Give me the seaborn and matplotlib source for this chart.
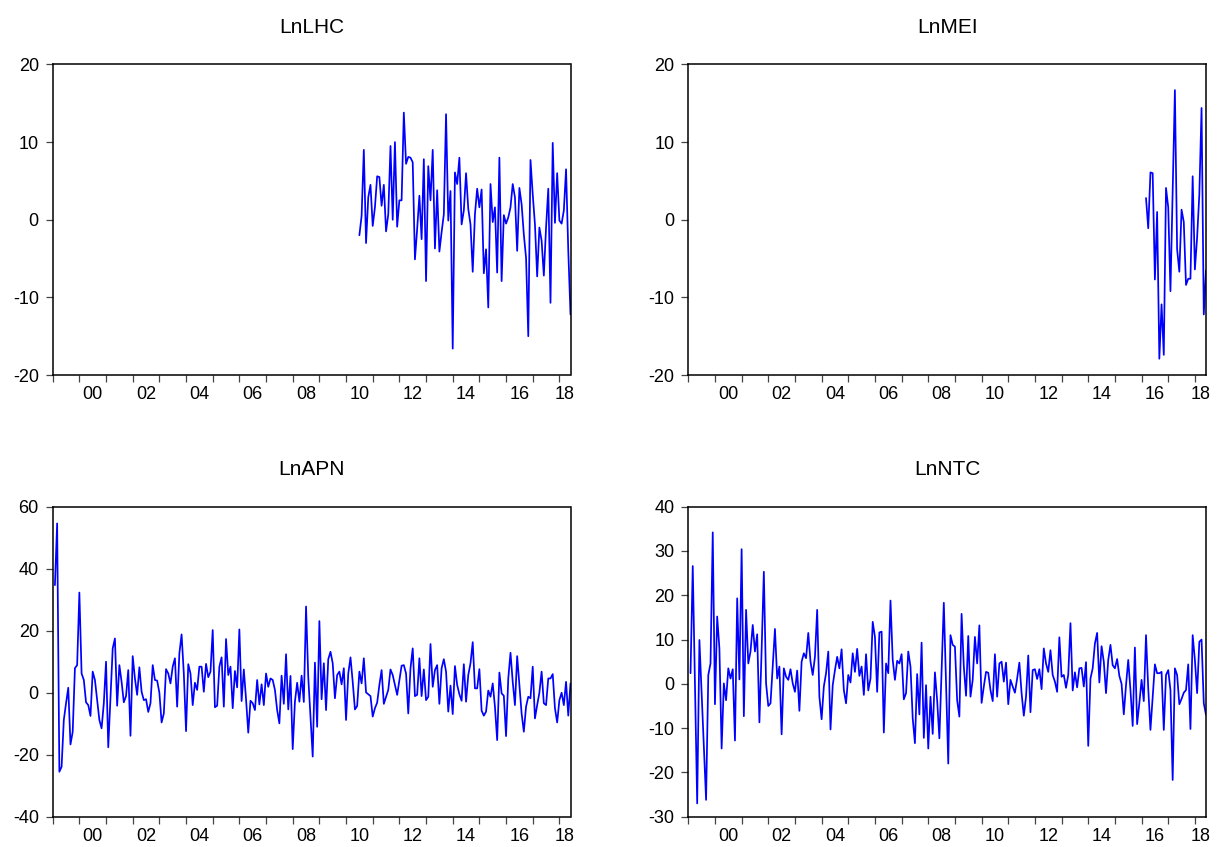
import numpy as np
import pandas as pd
import matplotlib
matplotlib.use("Agg")
import matplotlib.pyplot as plt
import seaborn as sns

# ---------------- data ----------------
axis_start = "1999-01"
axis_end = "2018-06"

lhc_start = "2010-07"
lhc = [-2.0, 0.5, 9.0, -3.0, 2.9, 4.5, -0.8, 1.6, 5.6, 5.5,
       1.8, 4.5, -1.5, 0.7, 9.5, 0.0, 10.0, -0.9, 2.5, 2.5,
       13.8, 7.2, 8.1, 8.0, 7.4, -5.1, -1.2, 3.1, -2.5, 7.8,
       -7.9, 6.9, 2.5, 9.0, -3.7, 3.8, -4.1, -1.6, 0.7, 13.6,
       -0.1, 3.7, -16.6, 6.1, 4.6, 8.0, -0.6, 1.2, 6.0, 1.4,
       -0.6, -6.7, 0.7, 4.0, 1.6, 3.9, -6.9, -3.8, -11.3, 4.6,
       -0.3, 1.6, -6.8, 8.0, -7.9, 0.6, -0.5, 0.3, 1.6, 4.6,
       2.9, -4.0, 4.1, 2.0, -1.9, -4.9, -15.0, 7.7, 3.3, -0.6,
       -7.3, -1.0, -2.7, -7.2, -1.0, 4.0, -10.7, 9.9, -0.4, 6.0,
       -0.1, -0.5, 1.2, 6.5, -4.0, -12.2]

mei_start = "2016-03"
mei = [2.8, -1.1, 6.1, 6.0, -7.7, 1.0, -17.9, -10.9, -17.4, 4.1,
       1.6, -9.2, 3.7, 16.7, -3.8, -6.7, 1.3, -0.3, -8.4, -7.6,
       -7.6, 5.6, -6.4, -2.3, 3.3, 14.4, -12.2, -6.5]

apn_start = "1999-02"
apn = [34.7, 54.6, -25.5, -23.9, -8.8, -3.4, 1.6, -16.7, -12.6, 7.9,
       8.9, 32.3, 6.2, 4.1, -3.1, -4.0, -7.5, 6.8, 4.1, -2.4,
       -8.8, -11.5, -3.4, 10.0, -17.6, -1.3, 14.3, 17.5, -4.2, 8.9,
       3.5, -3.1, -1.1, 7.3, -13.9, 11.8, 4.6, -0.7, 8.2, 0.3,
       -2.4, -2.1, -6.2, -3.4, 8.9, 4.1, 3.9, 0.0, -9.6, -6.7,
       7.6, 6.2, 3.0, 8.4, 11.1, -4.5, 12.7, 18.8, 6.2, -12.4,
       9.2, 6.2, -4.0, 3.2, 0.9, 8.4, 8.4, 0.3, 9.3, 5.0,
       6.8, 20.2, -4.7, -4.2, 8.4, 11.4, -4.5, 17.3, 5.7, 8.4,
       -5.0, 7.0, 1.7, 20.4, -2.7, 7.5, -2.1, -12.9, -2.6, -3.4,
       -5.6, 4.1, -3.8, 2.7, -4.0, 6.2, 1.9, 4.6, 4.1, 0.9,
       -5.6, -9.9, 5.5, -3.6, 12.4, -5.4, 5.4, -18.2, -2.9, 3.2,
       -2.9, 5.5, -3.0, 27.8, 5.0, -8.0, -20.6, 9.7, -11.0, 23.1,
       -2.1, 9.5, -5.6, 10.8, 13.2, 9.5, -1.8, 5.7, 6.8, 2.7,
       7.9, -8.8, 6.2, 11.4, 3.5, -5.4, -4.3, 6.8, 3.0, 11.1,
       0.1, -0.5, -1.1, -7.7, -5.0, -3.2, 2.5, 7.3, -3.6, -1.3,
       0.9, 7.5, 5.7, 2.5, -0.7, 4.1, 8.7, 8.9, 6.2, -6.7,
       7.9, 14.3, -1.1, -0.7, 11.1, -1.1, 7.5, -2.4, -1.3, 15.7,
       1.9, 7.3, 8.9, -3.6, 7.9, 10.8, 6.8, -6.1, 2.3, -6.9,
       8.6, 2.5, -0.5, -2.6, 9.2, -2.9, 5.7, 9.5, 16.3, 1.4,
       1.4, 7.6, -5.8, -7.4, -6.1, 0.7, -1.3, 3.0, -4.5, -15.3,
       6.5, -0.2, -1.0, -14.0, 4.6, 12.9, 3.5, -4.0, 11.8, 2.5,
       -6.7, -12.6, -4.5, -1.3, -1.8, 8.4, -8.3, -4.0, 0.0, 6.8,
       -3.4, -4.0, 4.6, 4.6, 6.0, -5.0, -9.6, -2.4, 0.0, -4.0,
       3.5, -7.4, 3.0]

ntc_start = "1999-02"
ntc = [2.4, 26.6, 0.0, -27.0, 9.9, -2.1, -14.1, -26.2, 2.0, 4.6,
       34.2, -4.6, 15.2, 8.0, -14.6, 0.1, -3.7, 3.5, 1.2, 3.3,
       -12.8, 19.3, 1.0, 30.4, -7.3, 16.7, 4.6, 7.3, 13.3, 7.3,
       11.2, -8.7, 7.6, 25.3, 0.1, -5.0, -4.4, 3.9, 12.4, 1.2,
       3.9, -11.4, 3.5, 1.6, 0.9, 3.3, 0.1, -1.8, 3.0, -6.1,
       5.0, 6.9, 5.8, 11.5, 5.0, 2.0, 6.1, 16.7, -2.9, -8.0,
       -0.6, 2.4, 7.3, -10.3, -0.3, 3.1, 6.1, 3.5, 7.8, -1.4,
       -4.4, 2.0, 0.3, 6.9, 2.7, 7.9, 1.8, 3.9, -2.5, 6.7,
       -1.5, 1.2, 14.0, 10.6, -1.8, 11.6, 11.8, -11.0, 4.6, 2.4,
       18.8, 5.4, 0.9, 5.2, 4.6, 6.7, -3.5, -2.1, 7.3, 3.9,
       -7.8, -13.4, 2.2, -6.9, 9.3, -12.2, -0.3, -14.6, -2.9, -11.3,
       2.6, -3.7, -12.3, 3.1, 18.3, 0.1, -18.0, 11.0, 8.8, 8.4,
       -3.7, -7.4, 15.8, 3.9, -2.7, 10.8, -2.9, 0.9, 10.6, 4.6,
       13.2, -4.3, -0.6, 2.7, 2.5, -1.4, -3.9, 6.7, -2.9, 4.6,
       5.0, 0.5, 4.8, -4.6, 0.9, -0.6, -2.0, 1.2, 4.8, -2.1,
       -7.2, -2.9, 6.4, -6.4, 3.1, 3.3, 1.1, 3.3, -1.2, 8.0,
       4.6, 2.7, 7.6, 2.0, 0.5, -1.8, 10.5, 1.6, 2.0, -0.9,
       2.0, 13.7, -1.5, 2.6, -0.8, 3.5, 3.6, -0.6, 4.9, -14.0,
       1.2, 3.5, 9.1, 11.5, 0.3, 8.5, 5.0, -2.1, 5.4, 8.8,
       4.2, 3.5, 5.6, 1.8, 0.0, -6.9, -0.3, 5.4, -1.4, -9.5,
       8.2, -9.1, -4.4, 0.9, -3.9, 11.0, -1.0, -10.4, -2.9, 4.4,
       2.4, 2.4, 2.7, -10.4, 2.0, 3.1, -1.4, -21.7, 3.5, 2.0,
       -4.6, -3.4, -2.0, -1.4, 4.4, -10.2, 11.0, 5.4, -2.1, 9.5,
       10.0, -4.4, -7.0]

titles = ["LnLHC", "LnMEI", "LnAPN", "LnNTC"]
yticks_top = [-20, -10, 0, 10, 20]
yticks_apn = [-40, -20, 0, 20, 40, 60]
yticks_ntc = [-30, -20, -10, 0, 10, 20, 30, 40]
label_years = list(range(2000, 2019, 2))

# ---------------- helpers ----------------
def dec_year(period):
    return period.year + (period.month - 1) / 12.0

def series_frame(start, values):
    p = pd.period_range(start=start, periods=len(values), freq="M")
    return pd.DataFrame({"t": [dec_year(q) for q in p], "v": values})

x0 = dec_year(pd.Period(axis_start, freq="M"))
x1 = dec_year(pd.Period(axis_end, freq="M"))

sns.set_style("white")
plt.rcParams["font.family"] = ["Liberation Sans", "DejaVu Sans"]
plt.rcParams["axes.unicode_minus"] = False
plt.rcParams["text.color"] = "black"
plt.rcParams["xtick.labelcolor"] = "black"
plt.rcParams["ytick.labelcolor"] = "black"

fig = plt.figure(figsize=(12.23, 8.47), dpi=100)
W, H = 1223.0, 847.0
boxes = [(52.7, 64.5, 570.5, 375.0), (688.3, 64.5, 1206.0, 375.0),
         (52.7, 506.7, 570.5, 816.7), (688.3, 506.7, 1206.0, 816.7)]

panels = [(lhc_start, lhc, yticks_top), (mei_start, mei, yticks_top),
          (apn_start, apn, yticks_apn), (ntc_start, ntc, yticks_ntc)]

for (l, t, r, b), title, (start, vals, yt) in zip(boxes, titles, panels):
    ax = fig.add_axes([l / W, 1 - b / H, (r - l) / W, (b - t) / H])
    df = series_frame(start, vals)
    sns.lineplot(data=df, x="t", y="v", ax=ax, color="#0000FF",
                 linewidth=1.25, errorbar=None)
    ax.set_xlim(x0, x1)
    ax.set_ylim(yt[0], yt[-1])
    ax.set_yticks(yt)
    ax.set_yticklabels([str(v) for v in yt])
    years = list(range(int(np.ceil(x0)), int(np.floor(x1)) + 1))
    ax.set_xticks(years)
    ax.set_xticklabels([""] * len(years))
    pos = [(max(y, x0) + min(y + 1, x1)) / 2 for y in label_years]
    ax.set_xticks(pos, minor=True)
    ax.set_xticklabels([f"{y % 100:02d}" for y in label_years], minor=True)
    ax.tick_params(axis="both", which="major", direction="out", length=5,
                   width=0.9, color="#444444", labelsize=13, pad=5,
                   labelcolor="black",
                   left=True, bottom=True, right=False, top=False)
    ax.tick_params(axis="x", which="minor", length=0, labelsize=13, pad=8,
                   bottom=True, labelcolor="black")
    for s in ax.spines.values():
        s.set_visible(True)
        s.set_color("black")
        s.set_linewidth(1.1)
    ax.set_xlabel("")
    ax.set_ylabel("")
    ax.set_title(title, fontsize=15, pad=23, color="black")

fig.savefig("out.png", dpi=100)
